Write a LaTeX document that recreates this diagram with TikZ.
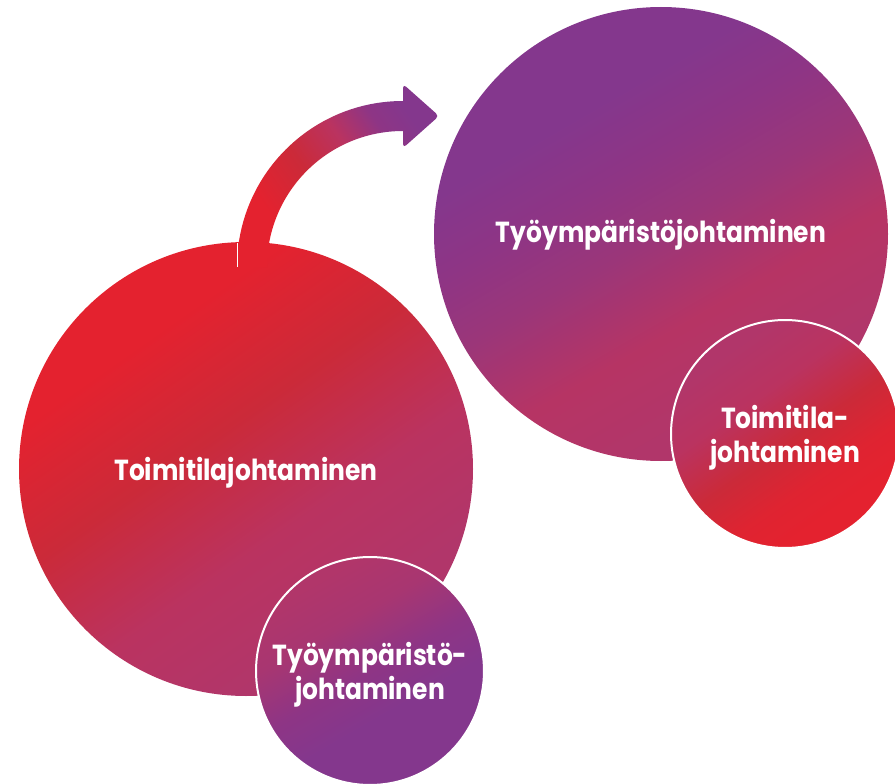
\documentclass[tikz,border=0pt]{standalone}
\usepackage{fontspec}
\setmainfont{Poppins}
\newfontfamily\lblfont[FakeStretch=0.86]{Poppins}

% brand palette
\definecolor{cRed}{HTML}{E4222F}
\definecolor{cDark}{HTML}{CB2A39}
\definecolor{cRose}{HTML}{BA3360}
\definecolor{cPink}{HTML}{B1366A}
\definecolor{cPlum}{HTML}{9B3679}
\definecolor{cViolet}{HTML}{8E3585}
\definecolor{cPurple}{HTML}{84378D}

% gradients (stops between 25bp and 75bp span the filled shape)
\pgfdeclarehorizontalshading{redbig}{100bp}{color(0bp)=(cRed); color(32bp)=(cRed); color(45bp)=(cDark); color(58bp)=(cRose); color(70bp)=(cPink); color(100bp)=(cPink)}
\pgfdeclarehorizontalshading{purplebig}{100bp}{color(0bp)=(cPurple); color(34bp)=(cPurple); color(42bp)=(cViolet); color(50bp)=(cPlum); color(60bp)=(cRose!60!cPink); color(70bp)=(cPink); color(100bp)=(cPink)}
\pgfdeclarehorizontalshading{purplesmall}{100bp}{color(0bp)=(cPink); color(27bp)=(cPink); color(38bp)=(cPink!80!cPurple); color(50bp)=(cViolet); color(60bp)=(cPurple); color(100bp)=(cPurple)}
\pgfdeclarehorizontalshading{redsmall}{100bp}{color(0bp)=(cPink); color(28bp)=(cPink); color(40bp)=(cRose); color(52bp)=(cDark); color(62bp)=(cRed!80!cDark); color(70bp)=(cRed); color(100bp)=(cRed)}
\pgfdeclarehorizontalshading{arrowgrad}{100bp}{color(0bp)=(cRed); color(30bp)=(cRed); color(44bp)=(cDark); color(56bp)=(cRose); color(66bp)=(cViolet); color(74bp)=(cPurple); color(100bp)=(cPurple)}

\begin{document}
\begin{tikzpicture}[x=1pt, y=-1pt,
  lbl/.style={text=white, font=\lblfont\bfseries\fontsize{29}{34.5}\selectfont, align=center, text depth=0pt},
  bigdisc/.style={circle, minimum size=454pt, inner sep=0pt, lbl},
  smalldisc/.style={circle, minimum size=228pt, inner sep=0pt, draw=white, line width=2pt, lbl}]
\useasboundingbox (0,0) rectangle (895,784);

% left pair: facility management with workplace management inside
\node[bigdisc, shade, shading=redbig, shading angle=-55] (facility) at (246,469) {Toimitilajohtaminen};

% curved arrow leading from the left pair to the right pair
\shade[shading=arrowgrad, shading angle=35]
  (237,267) arc[start angle=180, end angle=270, radius=166]
  [rounded corners=4pt] -- (403,84) -- (439,116) -- (403,148)
  [sharp corners] -- (403,131)
  arc[start angle=270, end angle=180, radius=136] -- cycle;
\draw[white, line width=0.8pt] (237.4,243) -- (237.4,267);

\node[smalldisc, shade, shading=purplesmall, shading angle=-60] (workplaceA) at (370,671) {Työympäristö-\\johtaminen};

% right pair: workplace management with facility management inside
\node[bigdisc, shade, shading=purplebig, shading angle=-60, text depth=6pt] (workplace) at (661,234) {Työympäristöjohtaminen};
\node[smalldisc, shade, shading=redsmall, shading angle=-55] (facilityB) at (785,434) {Toimitila-\\johtaminen};
\end{tikzpicture}
\end{document}
